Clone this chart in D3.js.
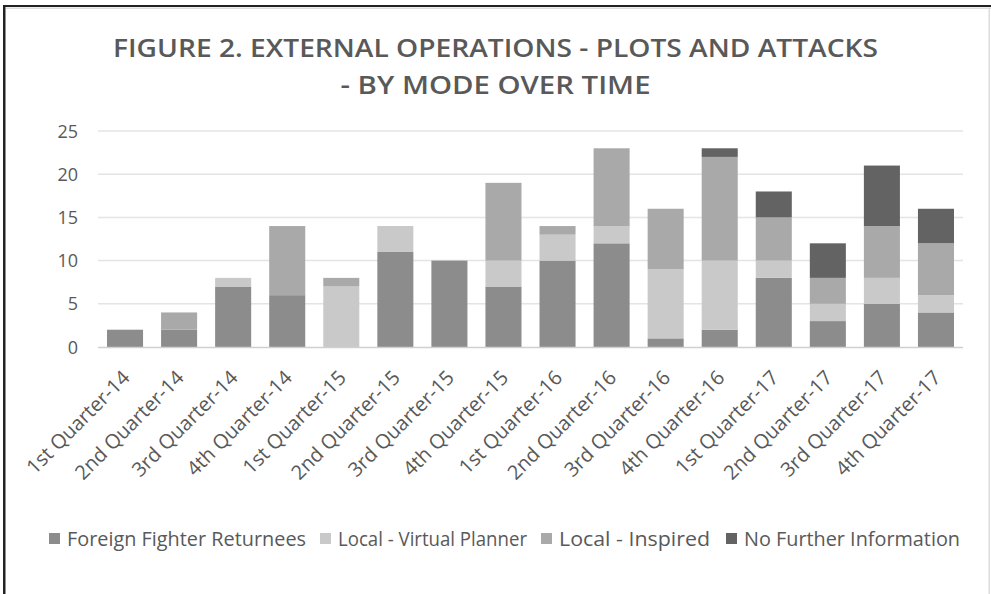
<!DOCTYPE html>
<html>
<head>
<meta charset="utf-8">
<script src="https://cdn.jsdelivr.net/npm/d3@7"></script>
<style>
  html, body { margin: 0; padding: 0; background: #fff; }
  svg { display: block; }
  text { font-family: "Open Sans", "DejaVu Sans", sans-serif; }
</style>
</head>
<body>
<svg id="chart" width="991" height="594"></svg>
<script>
const categories = ["1st Quarter-14","2nd Quarter-14","3rd Quarter-14","4th Quarter-14",
  "1st Quarter-15","2nd Quarter-15","3rd Quarter-15","4th Quarter-15",
  "1st Quarter-16","2nd Quarter-16","3rd Quarter-16","4th Quarter-16",
  "1st Quarter-17","2nd Quarter-17","3rd Quarter-17","4th Quarter-17"];
const seriesNames = ["Foreign Fighter Returnees","Local - Virtual Planner","Local - Inspired","No Further Information"];
const foreignFighterReturnees = [2,2,7,6,0,11,10,7,10,12,1,2,8,3,5,4];
const localVirtualPlanner     = [0,0,1,0,7,3,0,3,3,2,8,8,2,2,3,2];
const localInspired           = [0,2,0,8,1,0,0,9,1,9,7,12,5,3,6,6];
const noFurtherInformation    = [0,0,0,0,0,0,0,0,0,0,0,1,3,4,7,4];
const yTicks = [0,5,10,15,20,25];
const titleLines = ["FIGURE 2. EXTERNAL OPERATIONS - PLOTS AND ATTACKS","- BY MODE OVER TIME"];

const colors = ["#8c8c8c","#c9c9c9","#a9a9a9","#636363"];
const svg = d3.select("#chart");

// frame
svg.append("rect").attr("x",3).attr("y",5).attr("width",988).attr("height",2).attr("fill","#222");
svg.append("rect").attr("x",3).attr("y",5).attr("width",2.5).attr("height",589).attr("fill","#222");
svg.append("rect").attr("x",6).attr("y",7.5).attr("width",985).attr("height",1.5).attr("fill","#dcdcdc");
svg.append("rect").attr("x",988.5).attr("y",8).attr("width",1.5).attr("height",586).attr("fill","#dcdcdc");

// title
const titleWidths = [765, 310];
titleLines.forEach((t,i)=>{
  svg.append("text").attr("x",495.5).attr("y",57 + i*37)
    .attr("text-anchor","middle").attr("font-size",26).attr("font-weight",600)
    .attr("fill","#595959").attr("textLength",titleWidths[i]).attr("lengthAdjust","spacingAndGlyphs")
    .text(t);
});

const x = d3.scaleBand().domain(categories).range([98,963]).paddingInner(1/3).paddingOuter(1/6);
const y = d3.scaleLinear().domain([0,25]).range([347,131]);

// gridlines
svg.append("g").selectAll("line").data(yTicks.filter(d=>d>0)).join("line")
  .attr("x1",98).attr("x2",963).attr("y1",d=>y(d)).attr("y2",d=>y(d))
  .attr("stroke","#e4e4e4").attr("stroke-width",1.5);

// y labels
svg.append("g").selectAll("text").data(yTicks).join("text")
  .attr("x",78).attr("y",d=>y(d)+6.5).attr("text-anchor","end")
  .attr("font-size",18).attr("fill","#595959").text(d=>d);

// stacked data
const rows = categories.map((c,i)=>({cat:c,
  [seriesNames[0]]:foreignFighterReturnees[i],
  [seriesNames[1]]:localVirtualPlanner[i],
  [seriesNames[2]]:localInspired[i],
  [seriesNames[3]]:noFurtherInformation[i]}));
const stack = d3.stack().keys(seriesNames)(rows);

svg.append("g").selectAll("g").data(stack).join("g")
  .attr("fill",(d,i)=>colors[i])
  .selectAll("rect").data(d=>d.filter(v=>v[1]-v[0]>0)).join("rect")
  .attr("x",d=>x(d.data.cat)).attr("width",x.bandwidth())
  .attr("y",d=>y(d[1])).attr("height",d=>y(d[0])-y(d[1]));

// axis line
svg.append("line").attr("x1",98).attr("x2",963).attr("y1",347.5).attr("y2",347.5)
  .attr("stroke","#d0d0d0").attr("stroke-width",1.5);

// x labels
svg.append("g").selectAll("text").data(categories).join("text")
  .attr("transform",d=>`translate(${x(d)+x.bandwidth()/2+6},379) rotate(-45)`)
  .attr("text-anchor","end").attr("font-size",20).attr("fill","#595959").text(d=>d);

// legend
const legendX = [49, 320, 541, 726];
const legendW = [239, 189, 151, 216];
const lg = svg.append("g").selectAll("g").data(seriesNames).join("g")
  .attr("transform",(d,i)=>`translate(${legendX[i]},533)`);
lg.append("rect").attr("width",11).attr("height",11).attr("fill",(d,i)=>colors[i]);
lg.append("text").attr("x",18).attr("y",12.5).attr("font-size",20).attr("fill","#595959")
  .attr("textLength",(d,i)=>legendW[i]).attr("lengthAdjust","spacingAndGlyphs").text(d=>d);
</script>
</body>
</html>
